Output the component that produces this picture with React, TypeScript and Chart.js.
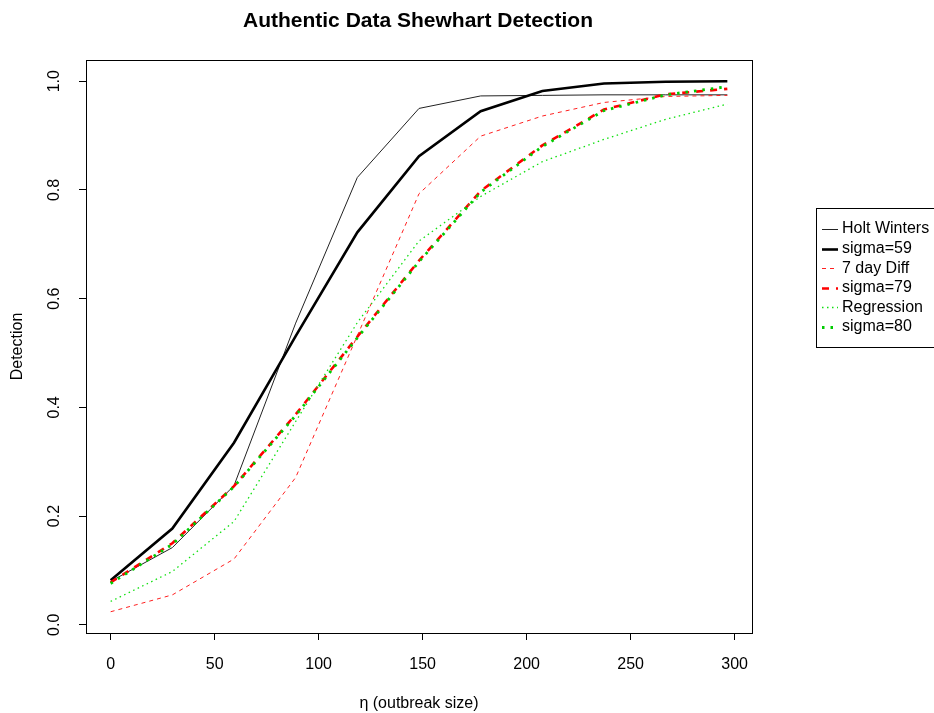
import React, { useEffect, useRef } from 'react';
import { Chart, registerables } from 'chart.js';

Chart.register(...registerables);

// ---- data ----
const xValues = [0, 29.65, 59.3, 88.95, 118.6, 148.25, 177.9, 207.55, 237.2, 266.85, 296.5];
const holtWinters = [0.080, 0.142, 0.256, 0.555, 0.823, 0.950, 0.973, 0.974, 0.975, 0.975, 0.975];
const sigma59 = [0.082, 0.177, 0.335, 0.531, 0.722, 0.862, 0.945, 0.982, 0.996, 0.999, 1.000];
const sevenDayDiff = [0.024, 0.055, 0.121, 0.271, 0.532, 0.793, 0.899, 0.936, 0.961, 0.972, 0.974];
const sigma79 = [0.078, 0.150, 0.255, 0.387, 0.530, 0.670, 0.798, 0.882, 0.948, 0.976, 0.986];
const regression = [0.043, 0.098, 0.190, 0.374, 0.556, 0.706, 0.788, 0.852, 0.893, 0.930, 0.958];
const sigma80 = [0.076, 0.148, 0.254, 0.385, 0.528, 0.668, 0.796, 0.880, 0.946, 0.975, 0.990];

const seriesLabels = ['Holt Winters', 'sigma=59', '7 day Diff', 'sigma=79', 'Regression', 'sigma=80'];
const xTicks = [0, 50, 100, 150, 200, 250, 300];
const yTicks = [0, 0.2, 0.4, 0.6, 0.8, 1.0];
const chartTitle = 'Authentic Data Shewhart Detection';
const xTitle = 'η (outbreak size)';
const yTitle = 'Detection';

const FONT = '"Liberation Sans", Arial, Helvetica, sans-serif';

const seriesValues = [holtWinters, sigma59, sevenDayDiff, sigma79, regression, sigma80];
const seriesStyles = [
  { color: '#222222', width: 1, dash: [] as number[] },
  { color: '#000000', width: 2.6, dash: [] as number[] },
  { color: '#ff2020', width: 1, dash: [4, 4] },
  { color: '#ff0000', width: 2.6, dash: [7, 7] },
  { color: '#10e010', width: 1.3, dash: [1.5, 3.5] },
  { color: '#00cc00', width: 2.8, dash: [2.5, 6] },
];

const rPlotPlugin = {
  id: 'rPlotExtras',
  afterDraw(chart: any) {
    const { ctx, chartArea: a } = chart;
    ctx.save();
    // plot box
    ctx.strokeStyle = '#000';
    ctx.lineWidth = 1;
    ctx.setLineDash([]);
    ctx.strokeRect(Math.round(a.left) + 0.5, Math.round(a.top) + 0.5,
      Math.round(a.right - a.left), Math.round(a.bottom - a.top));

    // title, centred over the plot region as in R
    ctx.fillStyle = '#000';
    ctx.font = `bold 21px ${FONT}`;
    ctx.textAlign = 'center';
    ctx.textBaseline = 'middle';
    ctx.fillText(chartTitle, (a.left + a.right) / 2 - 1, 21);

    // legend (R style box)
    const bx = 816, by = 208, bw = 140, bh = 139;
    ctx.fillStyle = '#fff';
    ctx.fillRect(bx, by, bw, bh);
    ctx.strokeStyle = '#000';
    ctx.lineWidth = 1;
    ctx.strokeRect(bx + 0.5, by + 0.5, bw, bh);
    ctx.font = `16px ${FONT}`;
    ctx.textAlign = 'left';
    ctx.textBaseline = 'middle';
    chart.data.datasets.forEach((ds: any, i: number) => {
      const y = 229 + i * 19.6;
      ctx.strokeStyle = ds.borderColor;
      ctx.lineWidth = ds.borderWidth;
      ctx.setLineDash(ds.borderDash || []);
      ctx.beginPath();
      ctx.moveTo(822, Math.round(y) + 0.5);
      ctx.lineTo(838, Math.round(y) + 0.5);
      ctx.stroke();
      ctx.setLineDash([]);
      ctx.fillStyle = '#000';
      ctx.fillText(ds.label, 842, y);
    });
    ctx.restore();
  },
};

export default function App() {
  const canvasRef = useRef<HTMLCanvasElement | null>(null);

  useEffect(() => {
    const canvas = canvasRef.current;
    if (!canvas) return;
    const datasets = seriesLabels.map((label, i) => ({
      label,
      data: xValues.map((x, j) => ({ x, y: seriesValues[i][j] })),
      borderColor: seriesStyles[i].color,
      backgroundColor: seriesStyles[i].color,
      borderWidth: seriesStyles[i].width,
      borderDash: seriesStyles[i].dash,
      pointRadius: 0,
      tension: 0,
      fill: false,
      order: seriesLabels.length - i,
    }));

    const chart = new Chart(canvas, {
      type: 'line',
      data: { datasets },
      plugins: [rPlotPlugin],
      options: {
        animation: false,
        responsive: false,
        devicePixelRatio: 1,
        layout: { padding: { top: 60, right: 182, bottom: 0, left: 0 } },
        plugins: {
          legend: { display: false },
          tooltip: { enabled: false },
          title: { display: false },
        },
        scales: {
          x: {
            type: 'linear',
            min: -11.86,
            max: 308.36,
            afterBuildTicks: (scale: any) => { scale.ticks = xTicks.map((v) => ({ value: v })); },
            afterFit: (scale: any) => { scale.height = 80; },
            grid: { display: true, drawOnChartArea: false, drawTicks: true, tickLength: 7, color: '#000', lineWidth: 1 },
            border: { display: false },
            ticks: {
              color: '#000',
              font: { family: FONT, size: 16 },
              padding: 15,
              autoSkip: false,
              maxRotation: 0,
              minRotation: 0,
              callback: (v: any) => String(v),
            },
            title: {
              display: true,
              text: xTitle,
              color: '#000',
              font: { family: FONT, size: 16 },
              padding: { top: 0, bottom: 0 },
            },
          },
          y: {
            type: 'linear',
            min: -0.0151,
            max: 1.0391,
            afterBuildTicks: (scale: any) => { scale.ticks = yTicks.map((v) => ({ value: v })); },
            afterFit: (scale: any) => { scale.width = 86; },
            grid: { display: true, drawOnChartArea: false, drawTicks: true, tickLength: 7, color: '#000', lineWidth: 1 },
            border: { display: false },
            ticks: {
              color: '#000',
              font: { family: FONT, size: 16 },
              padding: 13,
              autoSkip: false,
              minRotation: 90,
              maxRotation: 90,
              crossAlign: 'center',
              callback: (v: any) => Number(v).toFixed(1),
            },
            title: {
              display: true,
              text: yTitle,
              color: '#000',
              font: { family: FONT, size: 16 },
              padding: { top: 8, bottom: 0 },
            },
          },
        },
      } as any,
    });
    return () => chart.destroy();
  }, []);

  return (
    <div style={{ position: 'fixed', left: 0, top: 0, width: 934, height: 713, background: '#fff' }}>
      <canvas ref={canvasRef} width={934} height={713} style={{ display: 'block' }} />
    </div>
  );
}
